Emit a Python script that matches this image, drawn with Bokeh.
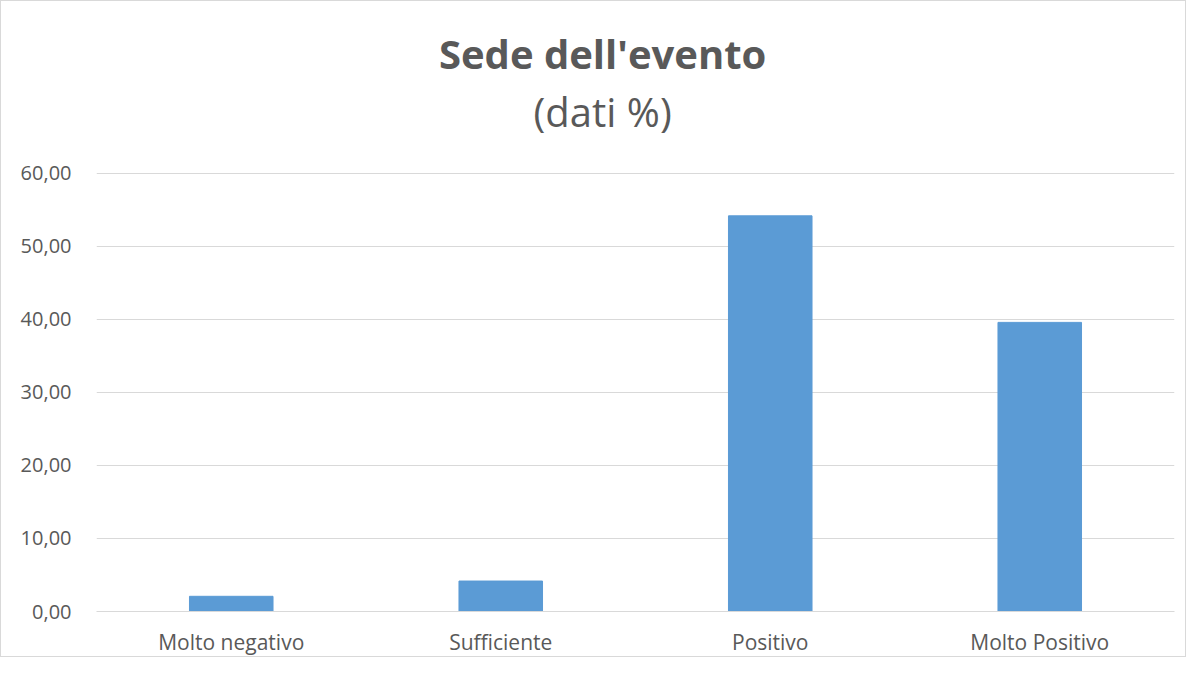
from bokeh.plotting import figure
from bokeh.models import Label, CustomJSTickFormatter, FixedTicker, Range1d
from bokeh.embed import file_html
from bokeh.resources import INLINE

categories = ["Molto negativo", "Sufficiente", "Positivo", "Molto Positivo"]
values = [2.08, 4.17, 54.17, 39.58]
y_ticks = [0, 10, 20, 30, 40, 50, 60]
title_text = "Sede dell'evento"
subtitle_text = "(dati %)"

FONT = "Open Sans"
TXT = "#595959"

p = figure(x_range=categories, y_range=Range1d(0, 83.51), width=1186, height=657,
           output_backend="svg", toolbar_location=None,
           min_border_left=95, min_border_right=13, min_border_bottom=46, min_border_top=0)

p.vbar(x=categories, top=values, width=0.31, color="#5b9bd5")

p.x_range.range_padding = 0
p.outline_line_color = None
p.background_fill_color = "white"
p.border_fill_color = "white"
p.styles = {"border": "1px solid #d9d9d9"}

p.ygrid.grid_line_color = "#d9d9d9"
p.ygrid.grid_line_width = 1
p.xgrid.grid_line_color = None
p.yaxis.ticker = FixedTicker(ticks=y_ticks)
p.yaxis.formatter = CustomJSTickFormatter(code="return tick.toFixed(2).replace('.', ',');")
p.yaxis.axis_line_color = None
p.yaxis.major_tick_line_color = None
p.yaxis.minor_tick_line_color = None
p.yaxis.major_label_standoff = 19
p.yaxis.major_label_text_font = FONT
p.yaxis.major_label_text_font_size = "20px"
p.yaxis.major_label_text_color = TXT

p.xaxis.axis_line_color = "#d9d9d9"
p.xaxis.major_tick_line_color = None
p.xaxis.minor_tick_line_color = None
p.xaxis.major_label_standoff = 10
p.xaxis.major_label_text_font = FONT
p.xaxis.major_label_text_font_size = "21px"
p.xaxis.major_label_text_color = TXT

main = Label(x=1.878, y=76.4, text=title_text, text_align="center", text_baseline="middle",
             text_font=FONT, text_font_size="40px", text_font_style="bold", text_color=TXT)
sub = Label(x=1.878, y=68.5, text=subtitle_text, text_align="center", text_baseline="middle",
            text_font=FONT, text_font_size="40px", text_font_style="normal", text_color=TXT)
p.add_layout(main)
p.add_layout(sub)

open("out.html", "w").write(file_html(p, INLINE))
